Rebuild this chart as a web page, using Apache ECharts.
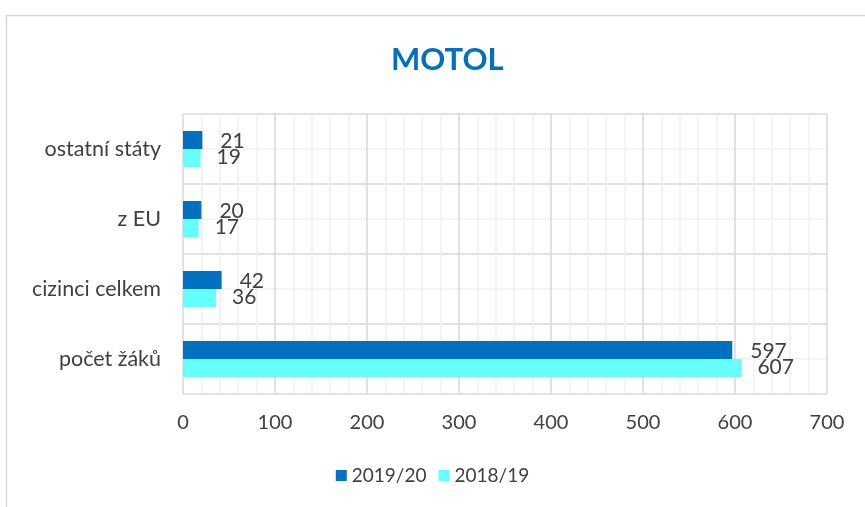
<!DOCTYPE html>
<html>
<head>
<meta charset="utf-8">
<script src="https://cdn.jsdelivr.net/npm/echarts@6/dist/echarts.min.js"></script>
<style>
  html, body { margin: 0; padding: 0; background: #fff; }
  #chart { width: 865px; height: 507px; }
</style>
</head>
<body>
<div id="chart"></div>
<script>
var categories = ['počet žáků', 'cizinci celkem', 'z EU', 'ostatní státy'];
var values2019 = [597, 42, 20, 21];
var values2018 = [607, 36, 17, 19];
var seriesNames = ['2019/20', '2018/19'];
var xTicks = [0, 700, 100];

var FONT = 'Lato, "Open Sans", sans-serif';
var myChart = echarts.init(document.getElementById('chart'));

var labelStyle = {
    show: true,
    position: 'right',
    distance: 16,
    color: '#404040',
    fontSize: 21,
    fontFamily: FONT
};

option = {
    animation: false,
    title: {
        text: 'MOTOL',
        left: 386,
        top: 39,
        textStyle: {
            color: '#0070C0',
            fontSize: 31,
            fontWeight: 'bold',
            fontFamily: FONT
        }
    },
    graphic: [{
        type: 'rect',
        shape: { x: 6.5, y: 15.5, width: 900, height: 600 },
        style: { fill: 'none', stroke: '#d9d9d9', lineWidth: 1.5 },
        z: -10
    }],
    legend: {
        data: seriesNames,
        bottom: 17,
        left: 'center',
        itemWidth: 11,
        itemHeight: 11,
        itemGap: 12,
        icon: 'rect',
        textStyle: { color: '#404040', fontSize: 19, fontFamily: FONT }
    },
    grid: {
        left: 183,
        right: 38,
        top: 114,
        bottom: 113
    },
    xAxis: {
        type: 'value',
        min: xTicks[0],
        max: xTicks[1],
        interval: xTicks[2],
        axisLine: { show: false },
        axisTick: { show: false },
        axisLabel: { color: '#404040', fontSize: 20, fontFamily: FONT, margin: 19 },
        splitLine: { show: true, lineStyle: { color: '#d9d9d9', width: 1.5 } },
        minorTick: { show: false, splitNumber: 5 },
        minorSplitLine: { show: true, lineStyle: { color: '#f0f0f0', width: 1.5 } }
    },
    yAxis: [{
        type: 'category',
        data: categories,
        axisLine: { show: false },
        axisTick: { show: false },
        axisLabel: { color: '#404040', fontSize: 21.5, fontFamily: FONT, margin: 22 },
        splitLine: { show: false }
    }, {
        type: 'value',
        min: 0,
        max: 8,
        interval: 1,
        axisLine: { show: false },
        axisTick: { show: false },
        axisLabel: { show: false },
        splitLine: {
            show: true,
            lineStyle: { color: ['#d9d9d9', '#f0f0f0'], width: 1.5 }
        }
    }],
    series: [{
        name: seriesNames[0],
        type: 'bar',
        yAxisIndex: 0,
        data: values2019,
        barWidth: 18,
        barGap: '0%',
        itemStyle: { color: '#0070C0' },
        label: Object.assign({}, labelStyle, { offset: [2, 1] })
    }, {
        name: seriesNames[1],
        type: 'bar',
        yAxisIndex: 0,
        data: values2018,
        barWidth: 18,
        barGap: '0%',
        itemStyle: { color: '#66FFFF' },
        label: Object.assign({}, labelStyle, { offset: [0, -1] })
    }]
};

myChart.setOption(option);
</script>
</body>
</html>
